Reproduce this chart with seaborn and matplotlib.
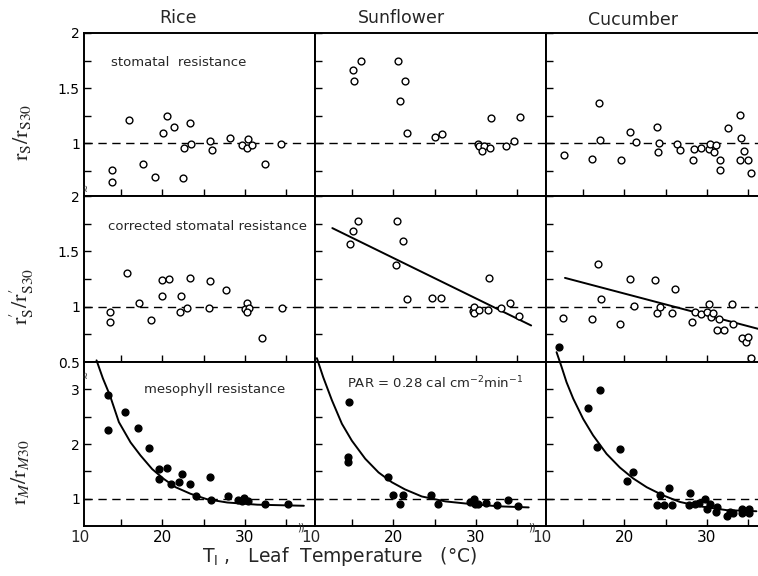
import matplotlib
matplotlib.use("Agg")
import matplotlib.pyplot as plt
import numpy as np
import seaborn as sns

# ---------------- data ----------------
crops = ["Rice", "Sunflower", "Cucumber"]

# stomatal resistance  r_S / r_S30  (open circles)
rice_rs_T = [13.9, 13.9, 15.9, 17.7, 19.1, 20.1, 20.6, 21.4, 22.5, 22.6, 23.4, 23.5,
             25.8, 26.0, 28.2, 29.7, 30.4, 30.2, 30.9, 32.4, 34.4]
rice_rs = [0.76, 0.65, 1.21, 0.81, 0.69, 1.09, 1.25, 1.15, 0.68, 0.96, 1.18, 0.99,
           1.02, 0.94, 1.05, 0.98, 1.04, 0.96, 0.98, 0.81, 0.99]
sunf_rs_T = [15.1, 15.2, 16.1, 20.5, 21.4, 20.8, 21.7, 25.1, 25.9, 30.3, 30.4, 31.0,
             30.7, 31.7, 31.8, 33.6, 34.6, 35.4]
sunf_rs = [1.66, 1.56, 1.75, 1.75, 1.56, 1.38, 1.09, 1.06, 1.08, 0.99, 0.97, 0.97,
           0.93, 0.96, 1.23, 0.97, 1.02, 1.24]
cucu_rs_T = [12.7, 16.1, 16.9, 17.1, 19.6, 20.7, 21.4, 23.9, 24.2, 24.1, 26.4, 26.7,
             28.3, 28.4, 29.3, 30.2, 30.4, 31.1, 30.9, 31.6, 31.6, 32.6, 34.0, 34.1,
             34.5, 34.0, 35.0, 35.3]
cucu_rs = [0.89, 0.86, 1.36, 1.03, 0.85, 1.10, 1.01, 1.15, 1.00, 0.92, 0.99, 0.94,
           0.85, 0.95, 0.96, 0.95, 0.99, 0.98, 0.92, 0.85, 0.76, 1.14, 1.26, 1.05,
           0.93, 0.85, 0.85, 0.73]

# corrected stomatal resistance  r'_S / r'_S30  (open circles)
rice_rsc_T = [13.7, 13.7, 15.7, 17.2, 18.6, 19.9, 20.0, 20.8, 22.1, 22.3, 23.0, 23.3,
              25.6, 25.8, 27.7, 30.2, 30.0, 30.5, 30.2, 32.1, 34.5]
rice_rsc = [0.95, 0.86, 1.30, 1.03, 0.88, 1.10, 1.24, 1.25, 0.95, 1.10, 0.99, 1.26,
            0.99, 1.23, 1.15, 1.03, 0.98, 0.99, 0.95, 0.72, 0.99]
sunf_rsc_T = [14.8, 15.1, 15.7, 20.4, 21.2, 20.3, 21.6, 24.7, 25.8, 29.6, 29.8, 29.8,
              30.4, 31.5, 31.6, 33.0, 34.1, 35.2]
sunf_rsc = [1.57, 1.68, 1.77, 1.77, 1.59, 1.38, 1.07, 1.08, 1.08, 0.96, 1.00, 0.94,
            0.97, 0.97, 1.26, 0.99, 1.03, 0.92]
cucu_rsc_T = [12.6, 16.1, 16.8, 17.2, 19.5, 20.7, 21.2, 23.7, 23.9, 24.3, 25.8, 26.1,
              28.2, 28.6, 29.3, 30.0, 30.2, 30.5, 30.7, 31.2, 31.5, 32.1, 33.0, 33.2,
              34.2, 34.7, 35.0, 35.4]
cucu_rsc = [0.90, 0.89, 1.39, 1.07, 0.84, 1.25, 1.01, 1.24, 0.94, 1.00, 0.94, 1.16,
            0.86, 0.95, 0.93, 0.95, 1.02, 0.91, 0.94, 0.79, 0.89, 0.79, 1.02, 0.84,
            0.72, 0.68, 0.73, 0.54]
# regression lines (end points)
sunf_fit_T = [12.6, 36.7]
sunf_fit = [1.71, 0.83]
cucu_fit_T = [12.8, 36.2]
cucu_fit = [1.26, 0.80]

# mesophyll resistance  r_M / r_M30  (filled circles)
rice_rm_T = [13.4, 13.4, 15.5, 17.0, 18.4, 19.6, 19.6, 20.6, 21.1, 22.0, 22.4, 23.4,
             24.1, 25.8, 25.9, 27.9, 29.2, 29.6, 29.9, 30.4, 32.4, 35.2]
rice_rm = [2.89, 2.25, 2.58, 2.30, 1.92, 1.54, 1.36, 1.57, 1.26, 1.31, 1.46, 1.26,
           1.04, 1.39, 0.98, 1.04, 0.98, 0.95, 1.02, 0.96, 0.91, 0.90]
sunf_rm_T = [14.6, 14.5, 14.5, 19.3, 20.0, 20.8, 21.2, 24.5, 25.4, 29.3, 29.8, 29.9,
             30.3, 31.2, 32.5, 33.9, 35.1]
sunf_rm = [2.77, 1.76, 1.67, 1.40, 1.07, 0.91, 1.06, 1.07, 0.90, 0.93, 0.99, 0.90,
           0.90, 0.92, 0.88, 0.98, 0.86]
cucu_rm_T = [12.1, 17.0, 15.6, 16.7, 19.5, 21.0, 20.3, 25.4, 24.3, 24.0, 24.8, 25.8,
             27.9, 27.8, 28.5, 29.1, 29.8, 30.4, 30.0, 31.2, 31.1, 32.4, 32.8, 33.2,
             34.2, 34.2, 35.1, 35.1]
cucu_rm = [3.78, 2.98, 2.65, 1.95, 1.91, 1.48, 1.32, 1.20, 1.06, 0.88, 0.88, 0.88,
           1.10, 0.88, 0.90, 0.92, 0.99, 0.90, 0.81, 0.85, 0.76, 0.68, 0.76, 0.73,
           0.82, 0.73, 0.82, 0.73]
# fitted curves (points traced on the picture)
rice_curve_T = [12.02, 12.79, 13.64, 14.73, 16.14, 17.35, 18.77, 20.18, 21.6, 23.4,
                25.4, 27.86, 31.5, 37.15]
rice_curve = [3.53, 3.20, 2.89, 2.40, 2.03, 1.79, 1.54, 1.36, 1.21, 1.09,
              0.99, 0.93, 0.89, 0.87]
sunf_curve_T = [10.73, 11.5, 12.55, 13.76, 14.97, 16.59, 18.2, 19.82, 21.4, 23.45,
                26.3, 29.5, 32.75, 36.4]
sunf_curve = [3.57, 3.22, 2.80, 2.37, 2.06, 1.73, 1.48, 1.30, 1.17, 1.04,
              0.95, 0.90, 0.86, 0.84]
cucu_curve_T = [11.78, 12.39, 12.99, 13.8, 15.0, 16.2, 17.84, 19.45, 21.07, 22.7,
                24.7, 26.73, 29.15, 32.4, 36.0]
cucu_curve = [3.68, 3.41, 3.13, 2.83, 2.46, 2.16, 1.82, 1.57, 1.37, 1.21,
              1.06, 0.94, 0.86, 0.79, 0.77]

# ---------------- figure ----------------
sns.set_theme(style="ticks")
plt.rcParams["font.family"] = ["DejaVu Sans"]
plt.rcParams["axes.edgecolor"] = "black"

W, H = 758, 576
fig = plt.figure(figsize=(W / 100, H / 100), dpi=100)
fig.patch.set_facecolor("white")

cols_px = [(84, 315), (315, 546), (546, 777)]
rows_px = [(33, 196), (196, 362), (362, 526)]
ylims = [(0.52, 2.0), (0.5, 2.0), (0.5, 3.5)]
yticks = [[0.75, 1.0, 1.25, 1.5, 1.75, 2.0],
          [0.5, 0.75, 1.0, 1.25, 1.5, 1.75, 2.0],
          [1.0, 1.5, 2.0, 2.5, 3.0]]
ylabels_map = [{1.0: "1", 1.5: "1.5", 2.0: "2"},
               {0.5: "0.5", 1.0: "1", 1.5: "1.5", 2.0: "2"},
               {1.0: "1", 2.0: "2", 3.0: "3"}]

panels = [
    [(rice_rs_T, rice_rs), (sunf_rs_T, sunf_rs), (cucu_rs_T, cucu_rs)],
    [(rice_rsc_T, rice_rsc), (sunf_rsc_T, sunf_rsc), (cucu_rsc_T, cucu_rsc)],
    [(rice_rm_T, rice_rm), (sunf_rm_T, sunf_rm), (cucu_rm_T, cucu_rm)],
]
lines = {
    (1, 1): (sunf_fit_T, sunf_fit),
    (1, 2): (cucu_fit_T, cucu_fit),
    (2, 0): (rice_curve_T, rice_curve),
    (2, 1): (sunf_curve_T, sunf_curve),
    (2, 2): (cucu_curve_T, cucu_curve),
}


def add_px_axes(x0, x1, y0, y1):
    return fig.add_axes([x0 / W, 1 - y1 / H, (x1 - x0) / W, (y1 - y0) / H])


for r, (y0, y1) in enumerate(rows_px):
    for c, (x0, x1) in enumerate(cols_px):
        ax = add_px_axes(x0, x1, y0, y1)
        ax.set_facecolor("white")
        ax.axhline(1.0, color="black", lw=1.0, ls=(0, (6, 4)), zorder=1)
        if (r, c) in lines:
            lt, lv = lines[(r, c)]
            sns.lineplot(x=lt, y=lv, ax=ax, color="black", lw=1.4,
                         estimator=None, sort=False, clip_on=False, zorder=2)
        T, v = panels[r][c]
        filled = (r == 2)
        sns.scatterplot(x=T, y=v, ax=ax, marker="o", s=24,
                        color="black" if filled else "white",
                        edgecolor="black", linewidth=1.0,
                        clip_on=False, legend=False, zorder=3)
        ax.set_xlim(10.5, 38.5)
        ax.set_ylim(*ylims[r])
        ax.set_xticks([15, 20, 25, 30, 35])
        ax.set_yticks(yticks[r])
        if r == 2:
            ax.set_xticklabels(["", "20", "", "30", ""])
            ax.annotate("10", xy=(10, 0), xycoords=("data", "axes fraction"),
                        xytext=(0, -3.2), textcoords="offset points",
                        ha="center", va="top", fontsize=11,
                        annotation_clip=False)
        else:
            ax.set_xticklabels([])
        if c == 0:
            ax.set_yticklabels([ylabels_map[r].get(t, "") for t in yticks[r]])
        else:
            ax.set_yticklabels([])
        ax.tick_params(axis="both", direction="in", length=5, width=1.0,
                       color="black", labelcolor="black", pad=3)
        ax.tick_params(axis="x", labelsize=11)
        ax.tick_params(axis="y", labelsize=10)
        ax.set_xlabel("")
        ax.set_ylabel("")
        for sp in ax.spines.values():
            sp.set_visible(True)
            sp.set_linewidth(1.4)
            sp.set_color("black")
        ax.grid(False)


def ftext(x, y, s, **kw):
    fig.text(x / W, 1 - y / H, s, **kw)


# column titles
ftext(178, 18, "Rice", ha="center", va="center", fontsize=12.5)
ftext(401, 18, "Sunflower", ha="center", va="center", fontsize=12.5)
ftext(633, 20, "Cucumber", ha="center", va="center", fontsize=12.5)

# panel annotations
ftext(179, 63, "stomatal  resistance", ha="center", va="center", fontsize=9.5)
ftext(207, 226, "corrected stomatal resistance", ha="center", va="center", fontsize=9.5)
ftext(215, 389, "mesophyll resistance", ha="center", va="center", fontsize=9.5)
ftext(435, 383, r"PAR = 0.28 cal cm$^{-2}$min$^{-1}$", ha="center", va="center",
      fontsize=9.5, math_fontfamily="dejavusans")

# y-axis labels (serif)
ftext(22, 132, r"$\mathrm{r}_{\mathrm{S}}/\mathrm{r}_{\mathrm{S30}}$", rotation=90,
      ha="center", va="center", fontsize=16, math_fontfamily="stix")
ftext(22, 296, r"$\mathrm{r}^{\prime}_{\mathrm{S}}/\mathrm{r}^{\prime}_{\mathrm{S30}}$",
      rotation=90, ha="center", va="center", fontsize=16, math_fontfamily="stix")
ftext(20, 472, r"$\mathrm{r}_{M}/\mathrm{r}_{M\mathrm{30}}$", rotation=90,
      ha="center", va="center", fontsize=16, math_fontfamily="stix")

# axis breaks
ftext(85, 187, "≈", ha="center", va="center", fontsize=7, rotation=90)
ftext(85, 374, "≈", ha="center", va="center", fontsize=7, rotation=90)
ftext(301, 527, "))", ha="center", va="center", fontsize=7)
ftext(532, 527, "))", ha="center", va="center", fontsize=7)

# x-axis label
ftext(202, 556, r"T$_\mathregular{l}$ ,   Leaf  Temperature   (°C)", ha="left",
      va="center", fontsize=13.5)

fig.savefig("out.png", dpi=100, facecolor="white")
